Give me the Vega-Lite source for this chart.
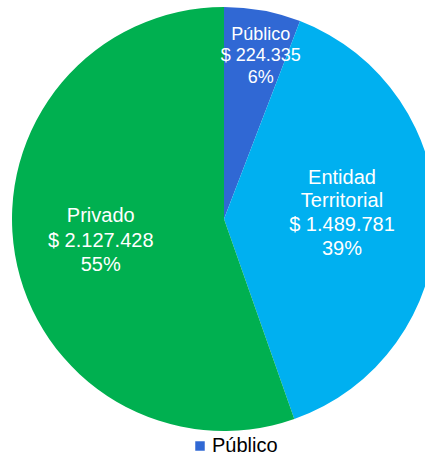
{
  "$schema": "https://vega.github.io/schema/vega-lite/v6.json",
  "width": 448,
  "height": 438,
  "padding": {"top": 0, "left": 0, "right": 0, "bottom": 14},
  "autosize": {"type": "none"},
  "background": "white",
  "config": {
    "view": {"stroke": null},
    "locale": {"number": {"decimal": ",", "thousands": ".", "grouping": [3], "currency": ["$ ", ""]}},
    "font": "Liberation Sans"
  },
  "data": {
    "values": [
      {"nombre": "Público", "valor": 224335, "orden": 1},
      {"nombre": "Entidad Territorial", "valor": 1489781, "orden": 2},
      {"nombre": "Privado", "valor": 2127428, "orden": 3}
    ]
  },
  "transform": [
    {"joinaggregate": [{"op": "sum", "field": "valor", "as": "total"}]},
    {"stack": "valor", "groupby": [], "sort": [{"field": "orden", "order": "ascending"}], "as": ["v0", "v1"]},
    {"calculate": "datum.v0 / datum.total", "as": "p0"},
    {"calculate": "datum.v1 / datum.total", "as": "p1"},
    {"calculate": "(datum.p0 + datum.p1) / 2", "as": "pm"},
    {"calculate": "replace(datum.nombre, ' ', '\\n') + '\\n$ ' + format(datum.valor, ',') + '\\n' + format(datum.valor / datum.total, '.0%')", "as": "etiqueta"}
  ],
  "layer": [
    {
      "mark": {"type": "arc", "outerRadius": 212, "stroke": null},
      "encoding": {
        "theta": {"field": "p0", "type": "quantitative", "scale": {"domain": [0, 1]}},
        "theta2": {"field": "p1"},
        "color": {
          "field": "nombre",
          "type": "nominal",
          "scale": {"domain": ["Público", "Entidad Territorial", "Privado"], "range": ["#3068D4", "#00B0F0", "#00B050"]},
          "legend": {
            "orient": "none",
            "legendX": 190,
            "legendY": 436,
            "title": null,
            "direction": "vertical",
            "symbolType": "square",
            "symbolSize": 90,
            "symbolStrokeWidth": 0,
            "labelFontSize": 20,
            "labelColor": "#000000",
            "labelFont": "Liberation Sans",
            "labelOffset": 2,
            "rowPadding": 8
          }
        }
      }
    },
    {
      "transform": [{"filter": "datum.orden === 1"}],
      "mark": {"type": "text", "radius": 169, "dx": 6, "dy": -18, "fontSize": 18, "lineHeight": 21.5, "lineBreak": "\n", "color": "white", "align": "center", "baseline": "middle", "font": "Liberation Sans"},
      "encoding": {
        "theta": {"field": "pm", "type": "quantitative", "scale": {"domain": [0, 1]}},
        "text": {"field": "etiqueta"}
      }
    },
    {
      "transform": [{"filter": "datum.orden === 2"}],
      "mark": {"type": "text", "radius": 118, "dy": -43, "fontSize": 20, "lineHeight": 23.7, "lineBreak": "\n", "color": "white", "align": "center", "baseline": "middle", "font": "Liberation Sans"},
      "encoding": {
        "theta": {"field": "pm", "type": "quantitative", "scale": {"domain": [0, 1]}},
        "text": {"field": "etiqueta"}
      }
    },
    {
      "transform": [{"filter": "datum.orden === 3"}],
      "mark": {"type": "text", "radius": 121, "dx": -4, "dy": -23, "fontSize": 20, "lineHeight": 24.5, "lineBreak": "\n", "color": "white", "align": "center", "baseline": "middle", "font": "Liberation Sans"},
      "encoding": {
        "theta": {"field": "pm", "type": "quantitative", "scale": {"domain": [0, 1]}},
        "text": {"field": "etiqueta"}
      }
    }
  ]
}
